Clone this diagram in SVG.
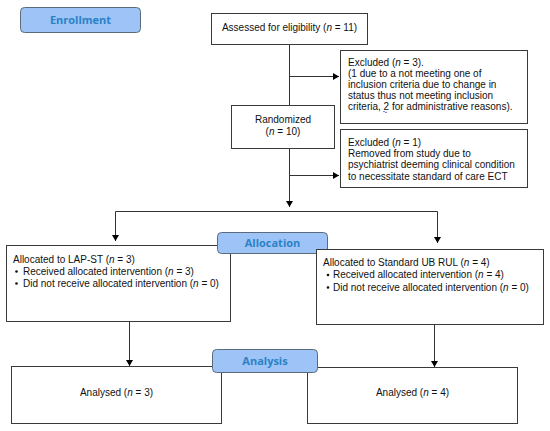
<svg xmlns="http://www.w3.org/2000/svg" width="550" height="431" viewBox="0 0 550 431">
<defs>
<marker id="ah" markerWidth="8" markerHeight="8" refX="6" refY="3.5" orient="auto" markerUnits="userSpaceOnUse">
<path d="M0,0 L6,3.5 L0,7 Z" fill="#000"/>
</marker>
<style>
.box{fill:#fff;stroke:#3a3a3a;stroke-width:1}
.lab{fill:#9dc3f7;stroke:#5b6b7b;stroke-width:1}
.lt{font-family:"Open Sans","DejaVu Sans",sans-serif;font-weight:bold;font-size:11px;fill:#2a82c6;text-anchor:middle}
.t{font-family:"Liberation Sans",Arial,sans-serif;font-size:10px;fill:#111}
.c{text-anchor:middle}
.ln{stroke:#333;stroke-width:1;fill:none}
</style>
</defs>
<rect width="550" height="431" fill="#fff"/>

<g id="connectors">
<line class="ln" x1="289.5" y1="44" x2="289.5" y2="105"/>
<line class="ln" x1="289.5" y1="76.5" x2="339" y2="76.5" marker-end="url(#ah)"/>
<line class="ln" x1="289.5" y1="148" x2="289.5" y2="207" marker-end="url(#ah)"/>
<line class="ln" x1="289.5" y1="175.5" x2="339" y2="175.5" marker-end="url(#ah)"/>
<polyline class="ln" points="115.5,241 115.5,211.5 437.5,211.5 437.5,243"/>
<line class="ln" x1="115.5" y1="220" x2="115.5" y2="241" marker-end="url(#ah)"/>
<line class="ln" x1="437.5" y1="220" x2="437.5" y2="243" marker-end="url(#ah)"/>
<line class="ln" x1="129.5" y1="321" x2="129.5" y2="366" marker-end="url(#ah)"/>
<line class="ln" x1="434.5" y1="324" x2="434.5" y2="367" marker-end="url(#ah)"/>
</g>

<g id="enrollment">
<rect class="lab" x="20.5" y="7.5" width="120" height="25" rx="4"/>
<text class="lt" x="80.5" y="24">Enrollment</text>
</g>

<g id="assessed">
<rect class="box" x="211.5" y="13.5" width="156" height="31"/>
<text class="t c" x="289.5" y="31">Assessed for eligibility (<tspan font-style="italic">n</tspan> = 11)</text>
</g>

<g id="excluded1">
<rect class="box" x="340.5" y="50.5" width="187" height="73"/>
<text class="t" x="348" y="65.5">Excluded (<tspan font-style="italic">n</tspan> = 3).</text>
<text class="t" x="348" y="76.5">(1 due to a not meeting one of</text>
<text class="t" x="348" y="87.5">inclusion criteria due to change in</text>
<text class="t" x="348" y="98.5">status thus not meeting inclusion</text>
<text class="t" x="348" y="109.5">criteria, 2 for administrative reasons).</text>
<path d="M383,112 q1,-1.5 2,0 t2,0" fill="none" stroke="#3b5bd6" stroke-width="0.8"/>
</g>

<g id="randomized">
<rect class="box" x="231.5" y="105.5" width="103" height="43"/>
<text class="t c" x="283" y="122.5">Randomized</text>
<text class="t c" x="283" y="134.5">(<tspan font-style="italic">n</tspan> = 10)</text>
</g>

<g id="excluded2">
<rect class="box" x="340.5" y="129.5" width="187" height="58"/>
<text class="t" x="348" y="145.5">Excluded (<tspan font-style="italic">n</tspan> = 1)</text>
<text class="t" x="348" y="156.5">Removed from study due to</text>
<text class="t" x="348" y="168">psychiatrist deeming clinical condition</text>
<text class="t" x="348" y="179.5">to necessitate standard of care ECT</text>
</g>

<g id="alloc-left">
<rect class="box" x="6.5" y="245.5" width="224" height="76"/>
<text class="t" x="13" y="262.5">Allocated to LAP-ST (<tspan font-style="italic">n</tspan> = 3)</text>
<circle cx="16.5" cy="271.5" r="1.3" fill="#111"/>
<text class="t" x="23" y="274.5">Received allocated intervention (<tspan font-style="italic">n</tspan> = 3)</text>
<circle cx="16.5" cy="283.5" r="1.3" fill="#111"/>
<text class="t" x="23" y="286.5">Did not receive allocated intervention (<tspan font-style="italic">n</tspan> = 0)</text>
</g>

<g id="allocation">
<rect class="lab" x="217.5" y="232.5" width="110" height="21" rx="4"/>
<text class="lt" x="272.5" y="247">Allocation</text>
</g>

<g id="alloc-right">
<rect class="box" x="316.5" y="249.5" width="227" height="75"/>
<text class="t" x="323" y="265.5">Allocated to Standard UB RUL (<tspan font-style="italic">n</tspan> = 4)</text>
<circle cx="328" cy="275" r="1.3" fill="#111"/>
<text class="t" x="333" y="277.5">Received allocated intervention (<tspan font-style="italic">n</tspan> = 4)</text>
<circle cx="328" cy="287.5" r="1.3" fill="#111"/>
<text class="t" x="333" y="290.5">Did not receive allocated intervention (<tspan font-style="italic">n</tspan> = 0)</text>
</g>

<g id="analysed-left">
<rect class="box" x="11.5" y="366.5" width="210" height="57"/>
<text class="t c" x="116.5" y="395.5">Analysed (<tspan font-style="italic">n</tspan> = 3)</text>
</g>

<g id="analysed-right">
<rect class="box" x="307.5" y="367.5" width="210" height="56"/>
<text class="t c" x="412.5" y="395.5">Analysed (<tspan font-style="italic">n</tspan> = 4)</text>
</g>

<g id="analysis">
<rect class="lab" x="212.5" y="349.5" width="105" height="23" rx="4"/>
<text class="lt" x="265" y="365">Analysis</text>
</g>
</svg>
